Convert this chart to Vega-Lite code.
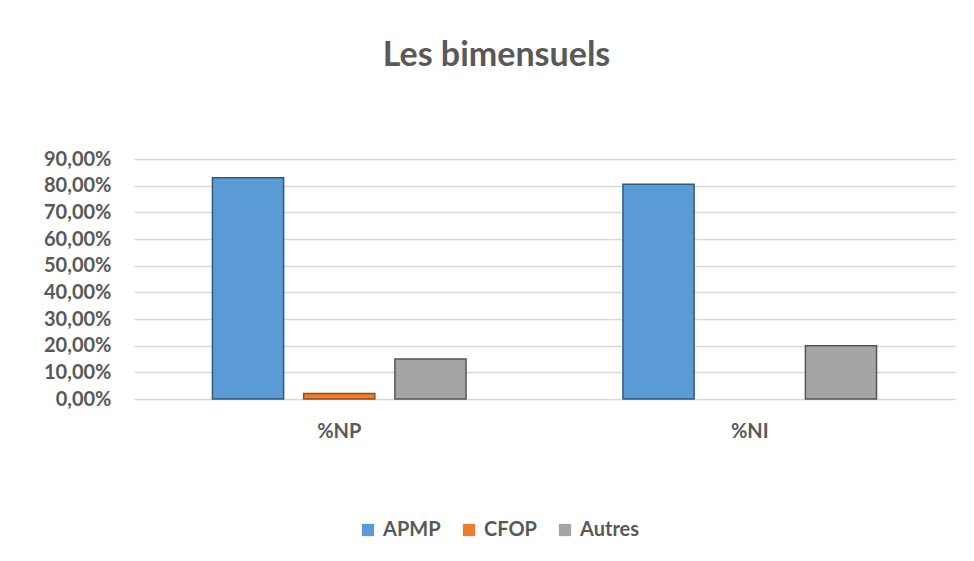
{
  "$schema": "https://vega.github.io/schema/vega-lite/v6.json",
  "autosize": {"type": "none"},
  "width": 821,
  "height": 240,
  "padding": {"left": 134, "top": 159, "right": 19, "bottom": 162},
  "background": "white",
  "title": {
    "text": "Les bimensuels",
    "font": "Lato",
    "fontSize": 34,
    "fontWeight": "bold",
    "color": "#595959",
    "anchor": "middle",
    "dx": -48,
    "offset": 76
  },
  "data": {
    "values": [
      {"categorie": "%NP", "serie": "APMP", "valeur": 0.83},
      {"categorie": "%NP", "serie": "CFOP", "valeur": 0.021},
      {"categorie": "%NP", "serie": "Autres", "valeur": 0.15},
      {"categorie": "%NI", "serie": "APMP", "valeur": 0.805},
      {"categorie": "%NI", "serie": "CFOP", "valeur": 0},
      {"categorie": "%NI", "serie": "Autres", "valeur": 0.2}
    ]
  },
  "config": {
    "view": {"stroke": null},
    "font": "Lato"
  },
  "mark": {"type": "bar", "strokeWidth": 1.5},
  "encoding": {
    "x": {
      "field": "categorie",
      "type": "nominal",
      "sort": ["%NP", "%NI"],
      "scale": {"paddingInner": 0, "paddingOuter": 0},
      "axis": {
        "title": null,
        "labelAngle": 0,
        "labelFont": "Lato",
        "labelFontSize": 20,
        "labelFontWeight": "bold",
        "labelColor": "#595959",
        "labelPadding": 22,
        "ticks": false,
        "domain": false
      }
    },
    "xOffset": {
      "field": "serie",
      "type": "nominal",
      "sort": ["APMP", "CFOP", "Autres"],
      "scale": {"paddingInner": 0.22, "paddingOuter": 0.86}
    },
    "y": {
      "field": "valeur",
      "type": "quantitative",
      "scale": {"domain": [0, 0.9], "nice": false},
      "axis": {
        "title": null,
        "values": [0, 0.1, 0.2, 0.3, 0.4, 0.5, 0.6, 0.7, 0.8, 0.9],
        "labelExpr": "replace(format(datum.value, '.2%'), '.', ',')",
        "labelFont": "Lato",
        "labelFontSize": 20,
        "labelFontWeight": "bold",
        "labelColor": "#595959",
        "labelPadding": 23,
        "ticks": false,
        "domain": false,
        "grid": true,
        "gridColor": "#D9D9D9",
        "gridWidth": 1.5
      }
    },
    "color": {
      "field": "serie",
      "type": "nominal",
      "sort": ["APMP", "CFOP", "Autres"],
      "scale": {"domain": ["APMP", "CFOP", "Autres"], "range": ["#5B9BD5", "#ED7D31", "#A5A5A5"]},
      "legend": {
        "title": null,
        "orient": "none",
        "legendX": 224,
        "legendY": 361,
        "direction": "horizontal",
        "symbolType": "square",
        "symbolSize": 150,
        "symbolStrokeWidth": 0,
        "labelFont": "Lato",
        "labelFontSize": 20,
        "labelFontWeight": "bold",
        "labelColor": "#595959",
        "labelOffset": 5,
        "columnPadding": 18
      }
    },
    "stroke": {
      "field": "serie",
      "type": "nominal",
      "scale": {"domain": ["APMP", "CFOP", "Autres"], "range": ["#2E5A82", "#9A4A15", "#555555"]},
      "legend": null
    },
    "strokeOpacity": {
      "condition": {"test": "datum.valeur == 0", "value": 0},
      "value": 1
    }
  }
}
